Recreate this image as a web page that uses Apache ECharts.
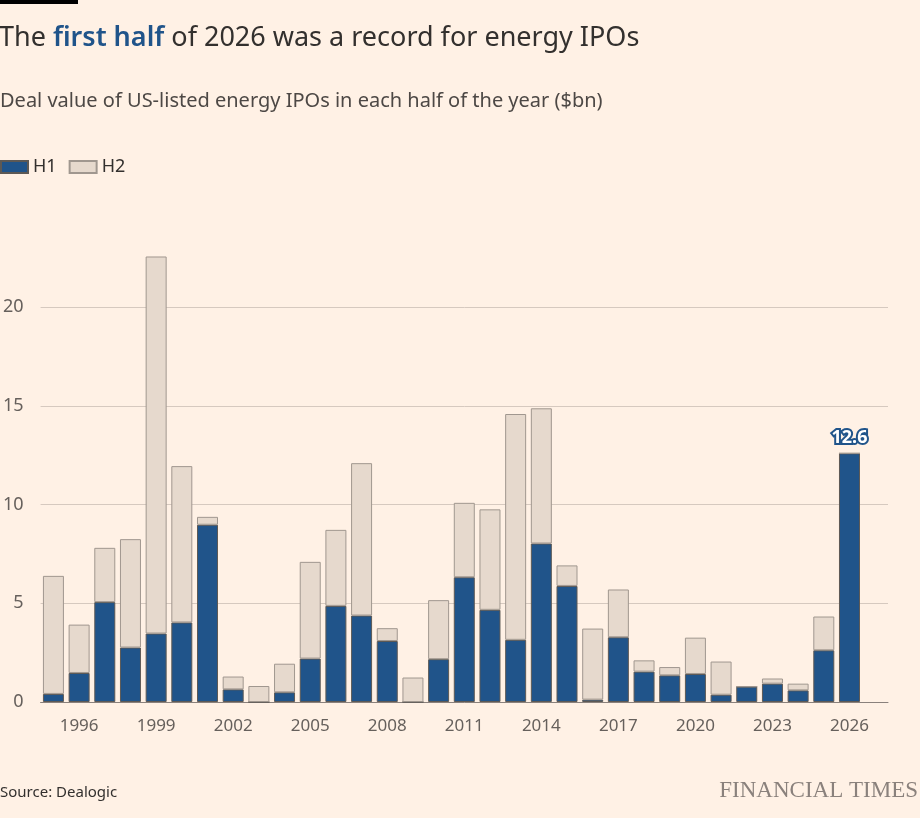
<!DOCTYPE html>
<html>
<head>
<meta charset="utf-8">
<script src="https://cdn.jsdelivr.net/npm/echarts@6/dist/echarts.min.js"></script>
<style>
  html, body { margin: 0; padding: 0; background: #fff1e5; }
  #chart { width: 920px; height: 818px; }
</style>
</head>
<body>
<div id="chart"></div>
<script>
var years = ['1995', '1996', '1997', '1998', '1999', '2000', '2001', '2002', '2003', '2004',
  '2005', '2006', '2007', '2008', '2009', '2010', '2011', '2012', '2013', '2014',
  '2015', '2016', '2017', '2018', '2019', '2020', '2021', '2022', '2023', '2024',
  '2025', '2026']
// first half of year ($bn)
var h1 = [0.41, 1.47, 5.06, 2.76, 3.47, 4.03, 8.98, 0.64, 0, 0.49,
  2.2, 4.87, 4.38, 3.09, 0, 2.17, 6.32, 4.67, 3.15, 8.03,
  5.88, 0.12, 3.28, 1.54, 1.35, 1.42, 0.37, 0.78, 0.93, 0.59,
  2.62, 12.6]
// second half of year ($bn)
var h2 = [5.98, 2.45, 2.75, 5.49, 19.1, 7.92, 0.4, 0.65, 0.81, 1.45,
  4.9, 3.85, 7.72, 0.65, 1.24, 2.99, 3.77, 5.09, 11.44, 6.85,
  1.04, 3.6, 2.42, 0.57, 0.42, 1.84, 1.68, 0, 0.26, 0.34,
  1.71, 0]
var yTicks = [0, 5, 10, 15, 20]

var font = 'Noto Sans'
var blue = '#20548a'
var beige = '#e6d9cd'

var chartDom = document.getElementById('chart')
var myChart = echarts.init(chartDom)

// one empty slot after 2026 so the baseline and gridlines run past the last bar
var axisData = years.concat([''])

var option = {
  backgroundColor: '#fff1e5',
  animation: false,
  textStyle: { fontFamily: font },
  title: [
    {
      text: '{a|The }{b|first half}{a| of 2026 was a record for energy IPOs}',
      left: -1,
      top: 25,
      padding: 0,
      textStyle: {
        rich: {
          a: { fontFamily: font, fontSize: 27, fontWeight: 'normal', color: '#33302e' },
          b: { fontFamily: font, fontSize: 27, fontWeight: 600, color: blue }
        }
      }
    },
    {
      text: 'Deal value of US-listed energy IPOs in each half of the year ($bn)',
      left: 0,
      top: 91,
      padding: 0,
      textStyle: { fontFamily: font, fontSize: 20, fontWeight: 'normal', color: '#4d4845' }
    },
    {
      text: 'Source: Dealogic',
      left: 0,
      top: 785,
      padding: 0,
      textStyle: { fontFamily: font, fontSize: 15, fontWeight: 'normal', color: '#33302e' }
    },
    {
      text: 'FINANCIAL TIMES',
      right: 2,
      top: 779,
      padding: 0,
      textStyle: { fontFamily: 'Liberation Serif', fontSize: 23, fontWeight: 'normal', color: '#8a817c' }
    }
  ],
  graphic: [
    { type: 'rect', left: 0, top: 0, shape: { width: 78, height: 4 }, style: { fill: '#000' } }
  ],
  legend: {
    left: 0,
    top: 158,
    padding: 0,
    itemWidth: 27,
    itemHeight: 12,
    itemGap: 12,
    icon: 'rect',
    textStyle: { fontFamily: font, fontSize: 18, color: '#33302e' },
    data: ['H1', 'H2']
  },
  grid: {
    left: 39,
    right: 32,
    top: 248,
    bottom: 116
  },
  xAxis: {
    type: 'category',
    data: axisData,
    axisLine: { lineStyle: { color: '#8a817c', width: 1 } },
    axisTick: {
      alignWithLabel: true,
      length: 8,
      interval: function (i, v) { return v !== '' },
      lineStyle: { color: '#bfb3aa' }
    },
    axisLabel: {
      interval: function (i, v) { return v !== '' && Number(v) % 3 === 1 },
      margin: 16,
      fontFamily: font,
      fontSize: 17,
      color: '#66605c'
    }
  },
  yAxis: {
    type: 'value',
    min: 0,
    max: 23,
    interval: 5,
    axisLine: { show: false },
    axisTick: { show: false },
    axisLabel: {
      showMaxLabel: false,
      margin: 17,
      fontFamily: font,
      fontSize: 18,
      color: '#66605c',
      formatter: function (v) { return yTicks.indexOf(v) >= 0 ? v : '' }
    },
    splitLine: { showMaxLine: false, lineStyle: { color: '#d6c9bf', width: 1 } }
  },
  series: [
    {
      name: 'H1',
      type: 'bar',
      stack: 'total',
      barWidth: 21,
      itemStyle: { color: blue, borderColor: '#5d5955', borderWidth: 1 },
      label: {
        show: true,
        position: 'top',
        distance: 6,
        fontFamily: font,
        fontSize: 18,
        fontWeight: 'bold',
        color: '#fff',
        textBorderColor: blue,
        textBorderWidth: 4,
        formatter: function (p) { return p.dataIndex === years.length - 1 ? p.value : '' }
      },
      data: h1
    },
    {
      name: 'H2',
      type: 'bar',
      stack: 'total',
      barWidth: 21,
      itemStyle: { color: beige, borderColor: '#a0978f', borderWidth: 1 },
      data: h2
    }
  ]
}

option && myChart.setOption(option)
</script>
</body>
</html>
